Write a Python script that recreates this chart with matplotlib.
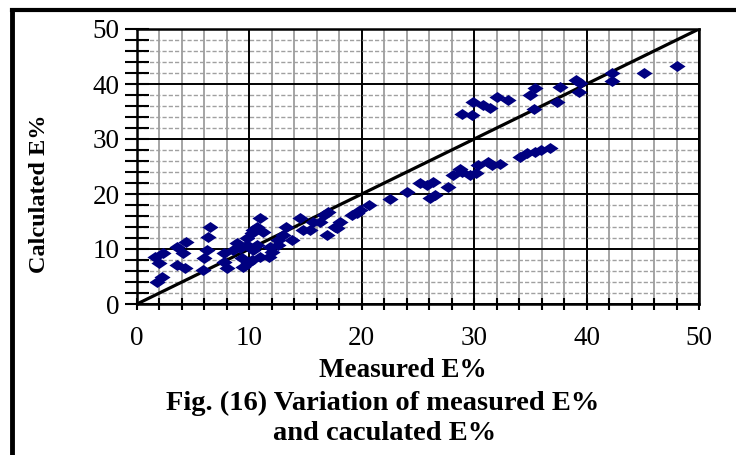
import matplotlib.pyplot as plt
from matplotlib.lines import Line2D
from matplotlib.path import Path
from matplotlib.ticker import MultipleLocator

# measured vs calculated E% (upper branch, lower branch, low-range cluster)
measured = [
    28.9, 29.8, 29.9, 30.8, 31.4, 32.0, 33.0, 35.0, 35.4, 35.3, 37.4, 37.6,
    39.1, 39.4, 39.3, 42.3, 42.3, 45.1, 48.0,
    34.1, 34.7, 35.4, 35.9, 36.7, 30.3, 31.2, 31.6, 32.3, 28.7, 25.8, 26.3,
    26.1, 26.5, 27.7, 28.1, 28.9, 29.6, 30.2, 25.2, 24.0, 22.5, 20.6, 19.8,
    19.1, 19.6, 17.6, 17.8, 18.1, 16.9, 17.0, 16.6, 16.3, 15.7, 15.4, 14.5,
    14.8, 13.3, 13.8, 13.0, 12.5, 11.8, 11.7, 10.9, 10.3, 11.2, 10.7, 10.2,
    9.8, 9.8, 9.2, 10.3, 10.9, 10.2, 9.3, 9.4, 9.9, 8.9, 8.5, 8.0, 7.7, 7.7,
    6.2, 6.0, 5.9, 6.3, 6.5, 4.4, 3.6, 4.1, 3.6, 4.3, 1.6, 2.3, 2.0, 2.2,
    1.8, 10.7, 12.0, 12.5,
]
calculated = [
    34.5, 34.4, 36.7, 36.2, 35.6, 37.6, 37.1, 38.0, 39.3, 35.4, 36.7, 39.5,
    40.7, 40.2, 38.5, 42.0, 40.5, 42.0, 43.3,
    26.7, 27.4, 27.6, 28.0, 28.4, 25.3, 25.8, 25.3, 25.5, 24.5, 21.6, 22.2,
    19.3, 19.8, 21.3, 23.5, 24.0, 23.5, 23.8, 22.0, 20.4, 19.1, 18.0, 17.1,
    16.2, 16.5, 14.0, 13.8, 14.9, 12.5, 16.7, 16.2, 14.9, 14.9, 13.5, 15.6,
    13.5, 14.0, 11.6, 12.5, 11.6, 10.4, 8.5, 15.6, 13.5, 13.1, 14.0, 12.9,
    12.0, 10.7, 10.2, 9.8, 8.5, 8.0, 8.4, 6.7, 7.5, 11.1, 9.8, 6.5, 7.6, 9.3,
    9.8, 8.4, 6.2, 12.2, 14.0, 11.3, 10.4, 9.3, 7.1, 6.5, 8.5, 9.3, 7.5, 4.9,
    4.0, 10.7, 9.5, 10.8,
]
axis_range = [0, 50]

SERIF = ["Liberation Serif", "DejaVu Serif"]

# flattened diamond like the spreadsheet marker
diamond = Path([(-1.0, 0.0), (0.0, 0.68), (1.0, 0.0), (0.0, -0.68), (-1.0, 0.0)],
               [Path.MOVETO, Path.LINETO, Path.LINETO, Path.LINETO, Path.CLOSEPOLY])

fig = plt.figure(figsize=(7.36, 4.55), dpi=100)
ax = fig.add_axes([137 / 736, 1 - 304 / 455, (699 - 137) / 736, (304 - 29) / 455])

ax.set_xlim(axis_range)
ax.set_ylim(axis_range)
ax.xaxis.set_major_locator(MultipleLocator(10))
ax.xaxis.set_minor_locator(MultipleLocator(2))
ax.yaxis.set_major_locator(MultipleLocator(10))
ax.yaxis.set_minor_locator(MultipleLocator(2))

# grid: heavy lines every 10, light lines every 2
ax.grid(which="major", color="black", lw=1.4, zorder=1)
ax.xaxis.grid(which="minor", color="#8c8c8c", lw=1.1)
ax.yaxis.grid(which="minor", color="#a0a0a0", lw=1.0, ls=(0, (3, 1.5)))
ax.set_axisbelow(True)

ax.plot(axis_range, axis_range, color="black", lw=2.3, zorder=3, solid_capstyle="butt")
ax.scatter(measured, calculated, marker=diamond, s=135, color="#000080",
           linewidths=0, zorder=4)

for side in ax.spines.values():
    side.set_linewidth(1.8)
    side.set_zorder(5)

ax.tick_params(axis="y", which="both", direction="inout", length=17, width=1.5,
               pad=4, labelsize=19.5)
ax.tick_params(axis="x", which="both", direction="inout", length=9, width=1.5,
               pad=11, labelsize=19.5)
for lab in ax.get_xticklabels() + ax.get_yticklabels():
    lab.set_family(SERIF)

ax.set_xlabel("Measured E%", family=SERIF, fontweight="bold", fontsize=19.5)
ax.xaxis.set_label_coords(0.473, -0.195)
ax.set_ylabel("Calculated E%", family=SERIF, fontweight="bold", fontsize=17.5)
ax.yaxis.set_label_coords(-0.155, 0.40)

fig.text(0.52, 1 - 403 / 455, "Fig. (16) Variation of measured E%", family=SERIF,
         fontweight="bold", fontsize=20.5, ha="center", va="center")
fig.text(0.523, 1 - 433 / 455, "and caculated E%", family=SERIF,
         fontweight="bold", fontsize=20.5, ha="center", va="center")

# outer frame (top and left edges)
fig.add_artist(Line2D([12 / 736, 1.0], [1 - 10 / 455, 1 - 10 / 455],
                      transform=fig.transFigure, color="black", lw=3))
fig.add_artist(Line2D([12 / 736, 12 / 736], [0.0, 1 - 10 / 455],
                      transform=fig.transFigure, color="black", lw=3.5))

fig.savefig("out.png", dpi=100)
